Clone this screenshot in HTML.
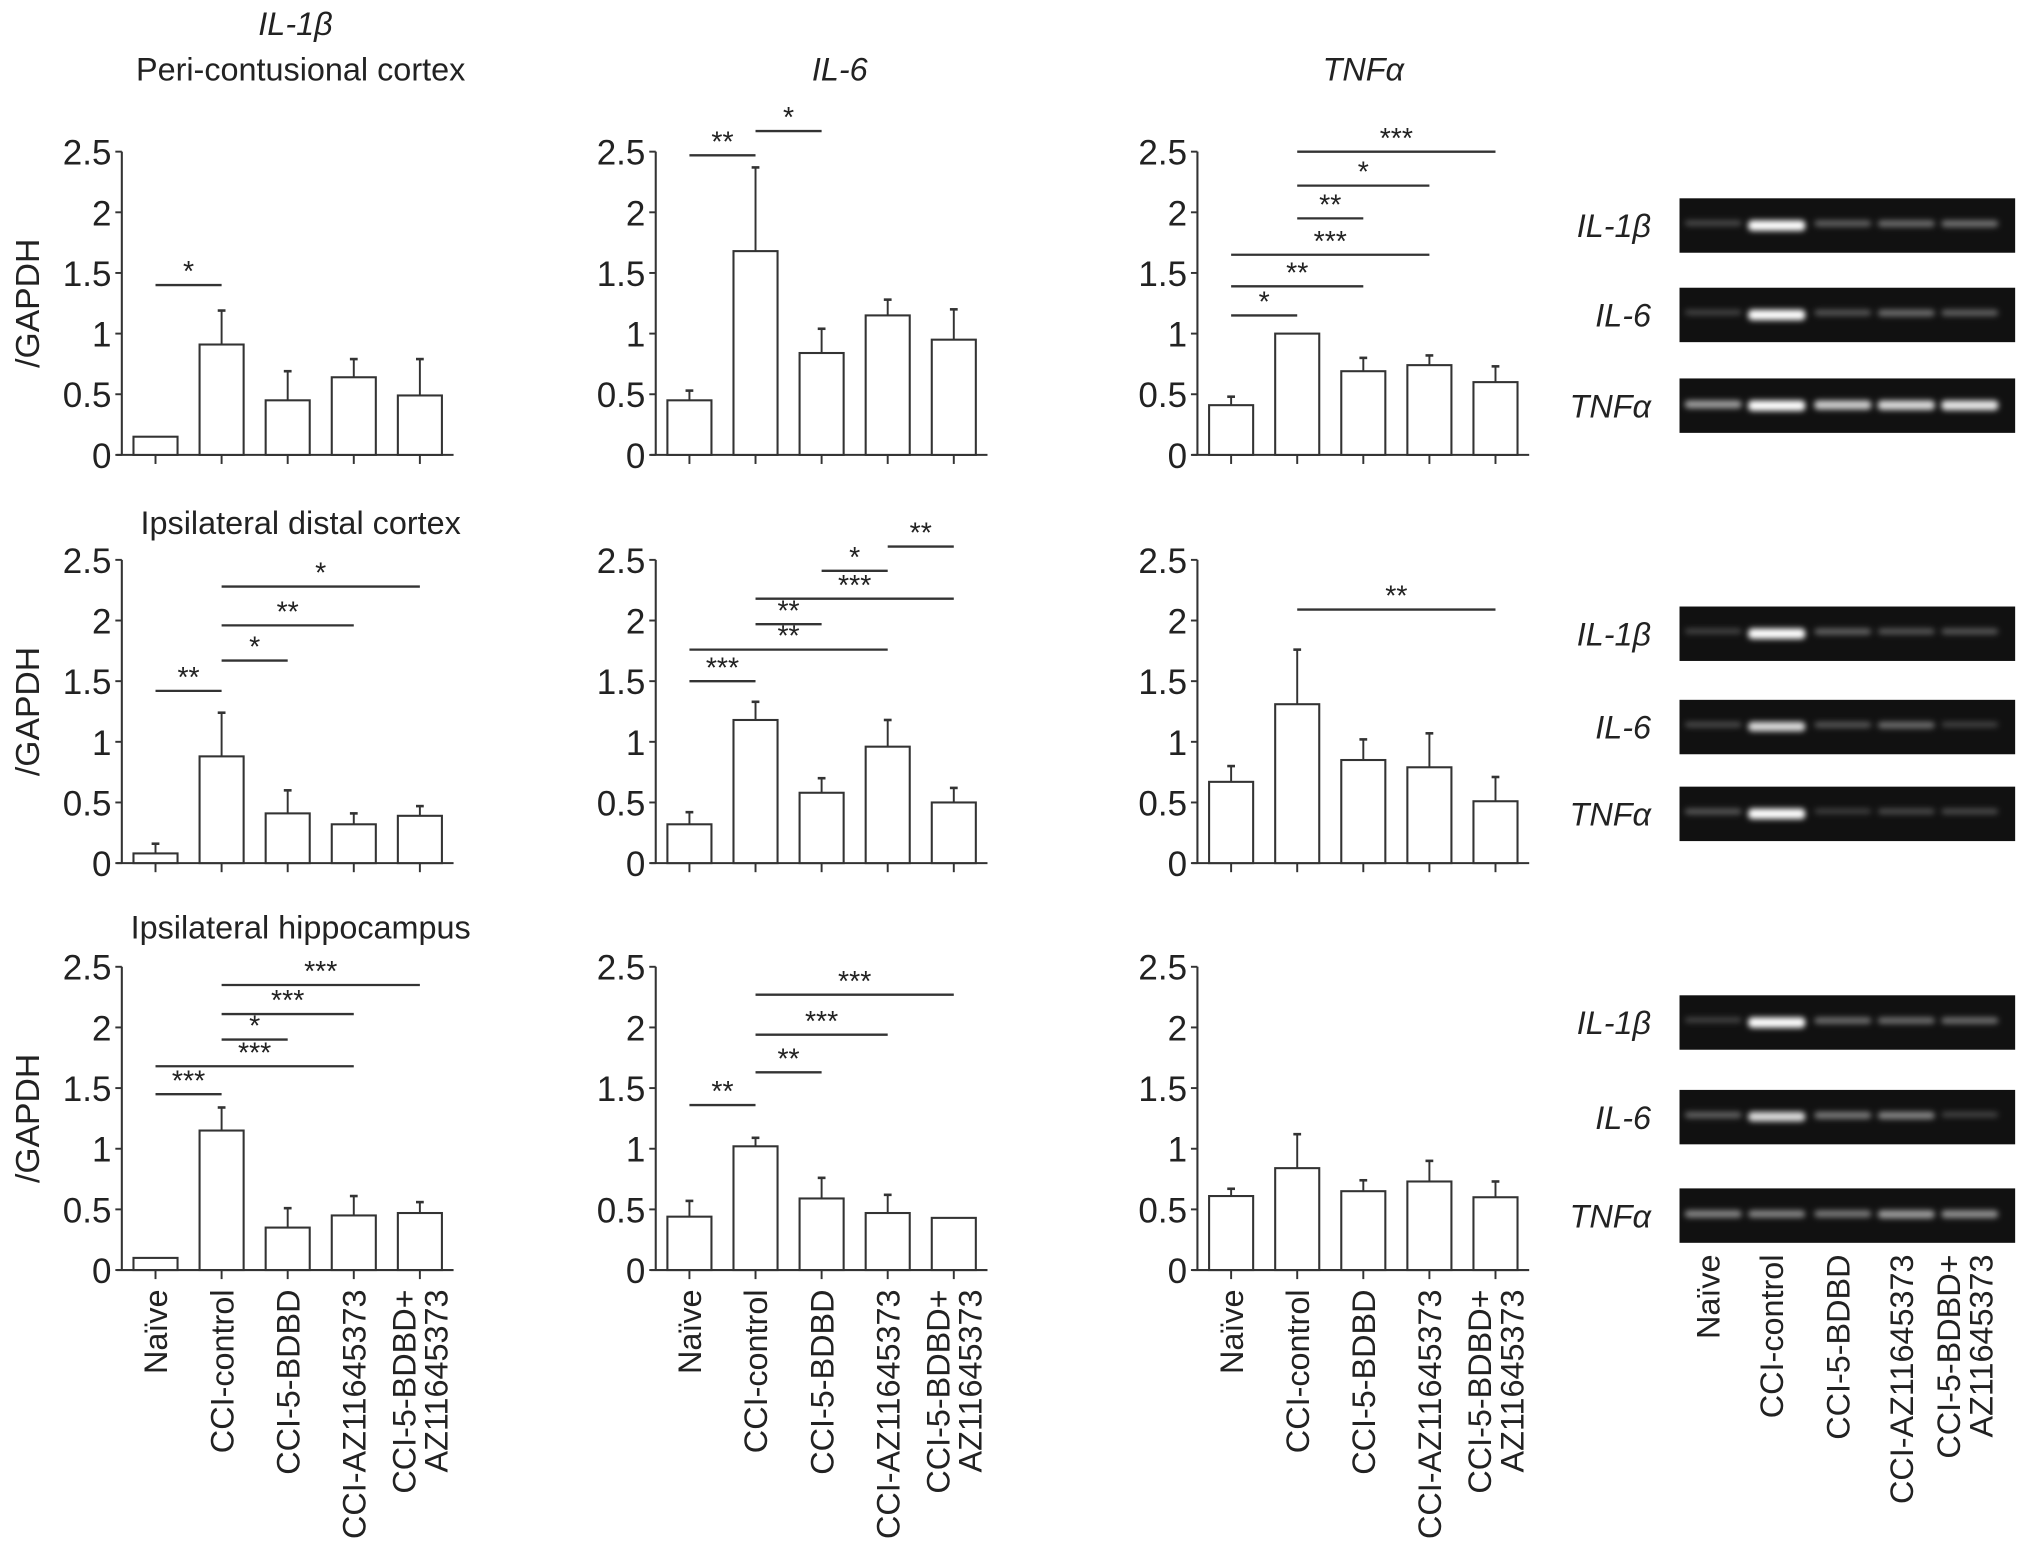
<!DOCTYPE html>
<html><head><meta charset="utf-8">
<style>
html,body{margin:0;padding:0;background:#fff;}
svg{display:block;}
text{font-family:"Liberation Sans",sans-serif;fill:#222;}
</style></head>
<body>
<svg id="fig" width="2032" height="1561" viewBox="0 0 1568 1204.5" xmlns="http://www.w3.org/2000/svg">
<defs><filter id="blur" x="-30%" y="-100%" width="160%" height="300%"><feGaussianBlur stdDeviation="2.2"/></filter></defs>
<g id="charts"></g>
<g id="gels"></g>
</svg>
<script>
const categories = ["Naïve","CCI-control","CCI-5-BDBD","CCI-AZ11645373","CCI-5-BDBD+\nAZ11645373"];
const tickLabels = ["0","0.5","1","1.5","2","2.5"];
const tickValues = [0,0.5,1,1.5,2,2.5];
// values per panel [row][col]
const means = [
  [[0.15,0.91,0.45,0.64,0.49],[0.45,1.68,0.84,1.15,0.95],[0.41,1.0,0.69,0.74,0.60]],
  [[0.08,0.88,0.41,0.32,0.39],[0.32,1.18,0.58,0.96,0.50],[0.67,1.31,0.85,0.79,0.51]],
  [[0.10,1.15,0.35,0.45,0.47],[0.44,1.02,0.59,0.47,0.43],[0.61,0.84,0.65,0.73,0.60]]
];
const errTops = [
  [[null,1.19,0.69,0.79,0.79],[0.53,2.37,1.04,1.28,1.20],[0.48,null,0.80,0.82,0.73]],
  [[0.16,1.24,0.60,0.41,0.47],[0.42,1.33,0.70,1.18,0.62],[0.80,1.76,1.02,1.07,0.71]],
  [[null,1.34,0.51,0.61,0.56],[0.57,1.09,0.76,0.62,null],[0.67,1.12,0.74,0.90,0.73]]
];
// significance: [from, to, level, label]
const sigs = [
  [[[0,1,1.40,"*"]],
   [[0,1,2.47,"**"],[1,2,2.67,"*"]],
   [[0,1,1.15,"*"],[0,2,1.39,"**"],[0,3,1.65,"***"],[1,2,1.95,"**"],[1,3,2.22,"*"],[1,4,2.50,"***"]]],
  [[[0,1,1.42,"**"],[1,2,1.67,"*"],[1,3,1.96,"**"],[1,4,2.28,"*"]],
   [[0,1,1.50,"***"],[0,3,1.76,"**"],[1,2,1.97,"**"],[1,4,2.18,"***"],[2,3,2.41,"*"],[3,4,2.61,"**"]],
   [[1,4,2.09,"**"]]],
  [[[0,1,1.45,"***"],[0,3,1.68,"***"],[1,2,1.90,"*"],[1,3,2.11,"***"],[1,4,2.35,"***"]],
   [[0,1,1.36,"**"],[1,2,1.63,"**"],[1,3,1.94,"***"],[1,4,2.27,"***"]],
   []]
];
const geneNames = ["IL-1β","IL-6","TNFα"];
// gel band intensities [row][gene][lane]
const bandIntensity = [
  [[0.25,1.0,0.35,0.4,0.42],[0.22,1.0,0.3,0.4,0.35],[0.6,1.0,0.8,0.85,0.9]],
  [[0.22,1.0,0.35,0.3,0.3],[0.25,0.85,0.3,0.4,0.22],[0.3,1.0,0.2,0.25,0.25]],
  [[0.22,1.0,0.4,0.4,0.4],[0.35,0.85,0.45,0.5,0.22],[0.5,0.5,0.45,0.6,0.55]]
];

const NS="http://www.w3.org/2000/svg";
function mk(tag,attrs,parent){const e=document.createElementNS(NS,tag);for(const k in attrs)e.setAttribute(k,attrs[k]);parent.appendChild(e);return e;}
const charts=document.getElementById('charts');
const axisX=[94,506,924];
const rowZero=[351,666,980];
const unit=93.6;
const stroke="#333";

for(let r=0;r<3;r++){for(let c=0;c<3;c++){
  const g=mk('g',{},charts);
  
  
  const ax=axisX[c], y0=rowZero[r];
  const yS=v=>y0-v*unit;
  const xS=i=>ax+26+i*51;
  const yAxis=mk('line',{x1:ax,y1:yS(2.5),x2:ax,y2:y0,stroke:stroke,'stroke-width':1.6},g);
  
  
  const xAxis=mk('line',{x1:ax-4,y1:y0,x2:ax+256,y2:y0,stroke:stroke,'stroke-width':1.6},g);
  
  
  tickValues.forEach((v,k)=>{
    mk('line',{x1:ax-5,y1:yS(v),x2:ax,y2:yS(v),stroke:stroke,'stroke-width':1.5},g);
    const t=mk('text',{x:ax-8,y:yS(v)+10,'text-anchor':'end','font-size':27},g);
    t.textContent=tickLabels[k];
    
    
  });
  means[r][c].forEach((v,i)=>{
    const cx=xS(i);
    mk('line',{x1:cx,y1:y0,x2:cx,y2:y0+7,stroke:stroke,'stroke-width':1.5},g);
    const e=errTops[r][c][i];
    if(e!==null){
      const el=mk('line',{x1:cx,y1:yS(v),x2:cx,y2:yS(e),stroke:stroke,'stroke-width':1.5},g);
      
      
      mk('line',{x1:cx-3,y1:yS(e),x2:cx+3,y2:yS(e),stroke:stroke,'stroke-width':2},g);
    }
    const b=mk('rect',{x:cx-17,y:yS(v),width:34,height:v*unit,fill:'#fff',stroke:stroke,'stroke-width':1.6},g);
    
    
  });
  sigs[r][c].forEach(s=>{
    const x1=xS(s[0]),x2=xS(s[1]),y=yS(s[2]);
    const l=mk('line',{x1:x1,y1:y,x2:x2,y2:y,stroke:stroke,'stroke-width':1.8},g);
    
    
    const t=mk('text',{x:(x1+x2)/2,y:y-3,'text-anchor':'middle','font-size':22},g);
    t.textContent=s[3];
    
    
  });
  if(c===0){
    const yl=mk('text',{transform:'translate(30,'+(y0-117)+') rotate(-90)','text-anchor':'middle','font-size':26},g);
    yl.textContent='/GAPDH';
    
    
  }
  if(r===2){
    categories.forEach((cat,i)=>{
      const lines=cat.split('\n');
      const cx=xS(i);
      lines.forEach((ln,j)=>{
        const off=(j-(lines.length-1)/2)*25+9;
        const t=mk('text',{transform:'translate('+(cx+off)+','+(y0+15)+') rotate(-90)','text-anchor':'end','font-size':25},g);
        t.textContent=ln;
        
        
      });
    });
  }
}}
// titles
const titles=[[228,27,"IL-1β",true],[232,62,"Peri-contusional cortex",false],[648,62,"IL-6",true],[1052,62,"TNFα",true],[232,412,"Ipsilateral distal cortex",false],[232,724,"Ipsilateral hippocampus",false]];
titles.forEach(tt=>{
  const t=mk('text',{x:tt[0],y:tt[1],'text-anchor':'middle','font-size':25,'font-style':tt[3]?'italic':'normal'},charts);
  t.textContent=tt[2];
  
  
});
// gels
const gels=document.getElementById('gels');
const gelTops=[[153,222,292],[468,540,607],[768,841,917]];
const laneX=[1322,1371,1422,1471,1520];
for(let r=0;r<3;r++){for(let k=0;k<3;k++){
  const top=gelTops[r][k];
  const g=mk('g',{},gels);
  
  
  mk('rect',{x:1296,y:top,width:259,height:42,fill:'#111'},g);
  bandIntensity[r][k].forEach((v,i)=>{
    const a=Math.min(1,v);
    const band=mk('rect',{x:laneX[i]-22,y:top+17,width:44,height:3+5*a,rx:3,fill:'rgb(255,255,255)','fill-opacity':a,filter:'url(#blur)'},g);
    
    
  });
  const t=mk('text',{x:1274,y:top+30,'text-anchor':'end','font-size':25,'font-style':'italic'},g);
  t.textContent=geneNames[k];
  
  
}}
categories.forEach((cat,i)=>{
  const lines=cat.split('\n');
  lines.forEach((ln,j)=>{
    const off=(j-(lines.length-1)/2)*25+9;
    const t=mk('text',{transform:'translate('+(laneX[i]-4+off)+',968) rotate(-90)','text-anchor':'end','font-size':25},gels);
    t.textContent=ln;
    
    
  });
});
</script>
</body></html>
